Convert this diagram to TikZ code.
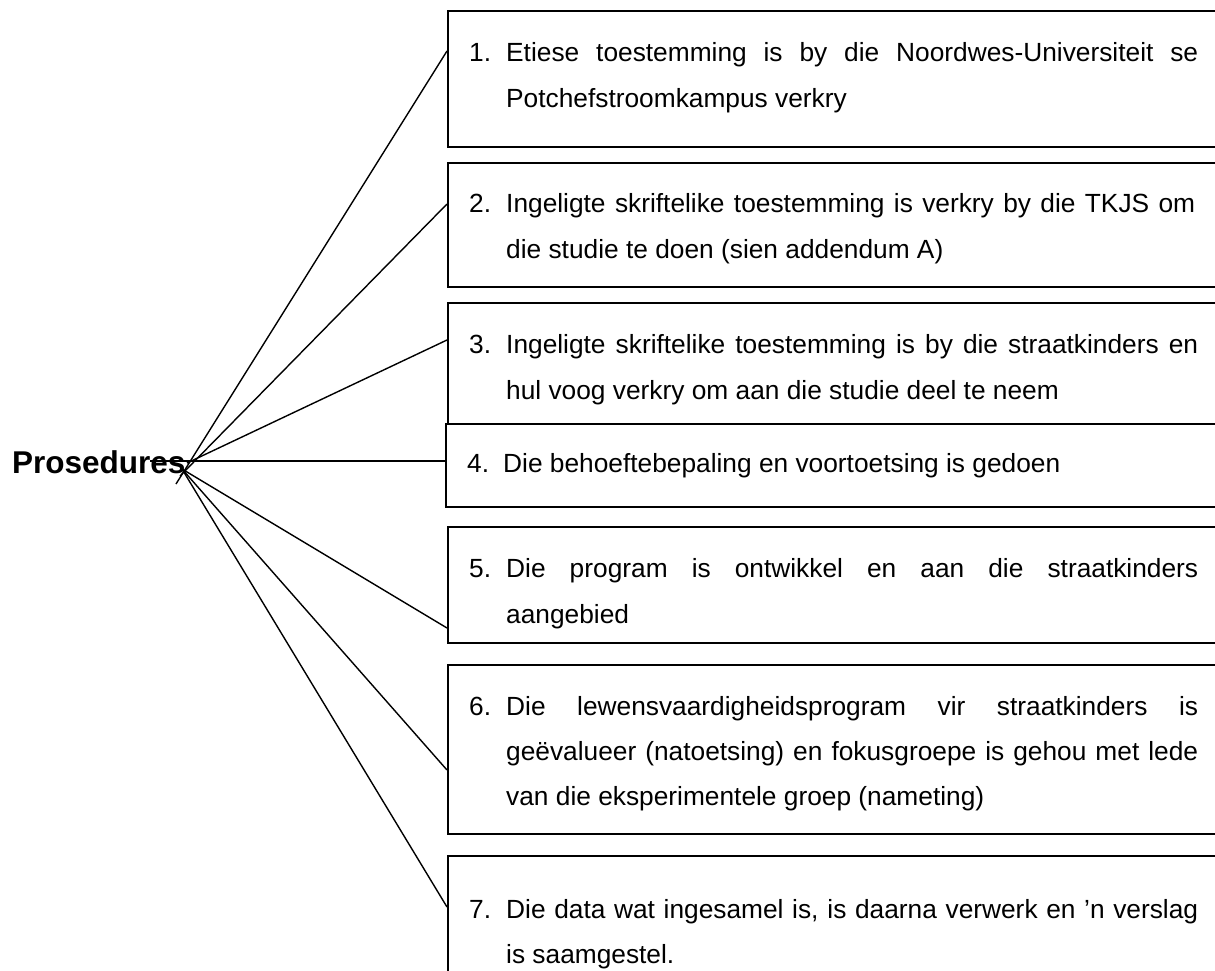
\documentclass[tikz,border=0pt]{standalone}
\usepackage{fontspec}
\setmainfont{Liberation Sans}
\begin{document}
\begin{tikzpicture}[x=1pt,y=-1pt,
  box/.style={draw, line width=1.8pt, anchor=north west, minimum width=820pt, inner sep=0pt},
  conn/.style={line width=1.4pt},
  txt/.style={anchor=base west, inner sep=0pt, font=\fontsize{26.3}{30}\selectfont},
  head/.style={anchor=base west, inner sep=0pt, font=\fontsize{31.5}{36}\selectfont\bfseries}]
\clip (0,0) rectangle (1215,970);
\useasboundingbox (0,0) rectangle (1215,970);
\newcommand{\jline}[1]{\makebox[692pt][s]{#1}}
% boxes
\node[box, minimum height=136pt] (b1) at (447,10) {};
\node[box, minimum height=124pt] (b2) at (447,162) {};
\node[box, minimum height=121pt] (b3) at (447,302) {};
\node[box, minimum height=83pt]  (b4) at (445,423) {};
\node[box, minimum height=116pt] (b5) at (447,526) {};
\node[box, minimum height=169pt] (b6) at (447,664) {};
\node[box, minimum height=200pt] (b7) at (447,855) {};
% heading
\node[head] (pros) at (12,473) {Prosedures};
% hub coordinates
\coordinate (h1) at (176,484);
\coordinate (h2) at (180,476);
\coordinate (h3) at (187,463);
\coordinate (h4) at (150,461);
\coordinate (h5) at (182,469);
% connectors
\draw[conn] (h1) -- ([yshift=-41pt]b1.north west);
\draw[conn] (h2) -- ([yshift=-42pt]b2.north west);
\draw[conn] (h3) -- ([yshift=-38pt]b3.north west);
\draw[conn] (h4) -- ([yshift=-38pt]b4.north west);
\draw[conn] (h5) -- ([yshift=-102pt]b5.north west);
\draw[conn] (h5) -- ([yshift=-106pt]b6.north west);
\draw[conn] (h5) -- ([yshift=-52pt]b7.north west);
% texts
\node[txt] (n1) at (469,61) {1.};
\node[txt] (t1a) at (506,61) {\jline{Etiese toestemming is by die Noordwes-Universiteit se}};
\node[txt] (t1b) at (506,107) {Potchefstroomkampus verkry};
\node[txt] (n2) at (469,212) {2.};
\node[txt] (t2a) at (506,212) {\makebox[689pt][s]{Ingeligte skriftelike toestemming is verkry by die TKJS om}};
\node[txt] (t2b) at (506,258) {die studie te doen (sien addendum A)};
\node[txt] (n3) at (469,353) {3.};
\node[txt] (t3a) at (506,353) {\jline{Ingeligte skriftelike toestemming is by die straatkinders en}};
\node[txt] (t3b) at (506,399) {hul voog verkry om aan die studie deel te neem};
\node[txt] (n4) at (467,472) {4.};
\node[txt] (t4a) at (503,472) {Die behoeftebepaling en voortoetsing is gedoen};
\node[txt] (n5) at (469,577) {5.};
\node[txt] (t5a) at (506,577) {\jline{Die program is ontwikkel en aan die straatkinders}};
\node[txt] (t5b) at (506,623) {aangebied};
\node[txt] (n6) at (469,715) {6.};
\node[txt] (t6a) at (506,715) {\jline{Die lewensvaardigheidsprogram vir straatkinders is}};
\node[txt] (t6b) at (506,760) {\jline{geëvalueer (natoetsing) en fokusgroepe is gehou met lede}};
\node[txt] (t6c) at (506,805) {van die eksperimentele groep (nameting)};
\node[txt] (n7) at (469,918) {7.};
\node[txt] (t7a) at (506,918) {\jline{Die data wat ingesamel is, is daarna verwerk en ’n verslag}};
\node[txt] (t7b) at (506,963) {is saamgestel.};
\end{tikzpicture}
\end{document}
